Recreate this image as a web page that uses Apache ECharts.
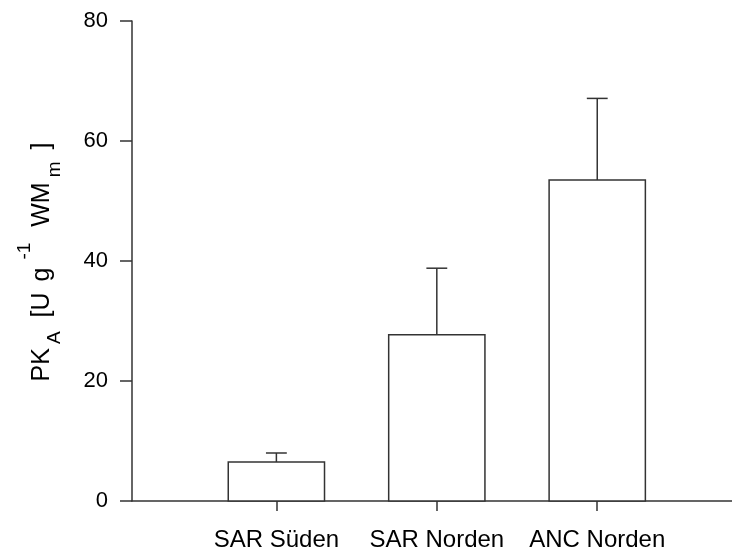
<!DOCTYPE html>
<html>
<head>
<meta charset="utf-8">
<script src="https://cdn.jsdelivr.net/npm/echarts@6/dist/echarts.min.js"></script>
<style>
  html, body { margin: 0; padding: 0; background: #fff; }
  #chart { width: 732px; height: 555px; }
</style>
</head>
<body>
<div id="chart"></div>
<script>
// Site groups, mean activity and upper end of the error bar (mean + SD)
const categories = ['SAR Süden', 'SAR Norden', 'ANC Norden'];
const positions = [1, 2, 3];
const means = [6.5, 27.7, 53.5];
const upperErrors = [8.0, 38.8, 67.1];
const yTicks = [0, 20, 40, 60, 80];

const FONT = 'Liberation Sans, Arial, sans-serif';
const INK = '#333';

const barData = positions.map((p, i) => [p, means[i]]);
const errData = positions.map((p, i) => [p, means[i], upperErrors[i]]);

// rich-text pieces of the y-axis title: main text, subscripts and superscript
const main = (padL, padR) => ({
  fontFamily: FONT, fontSize: 25, color: '#000', lineHeight: 25,
  verticalAlign: 'top', padding: [14, padR || 0, 0, padL || 0]
});
const small = (top, padL, bottom) => ({
  fontFamily: FONT, fontSize: 19, color: '#000', lineHeight: 19,
  verticalAlign: 'top', padding: [top, 0, bottom || 0, padL || 0]
});

const chart = echarts.init(document.getElementById('chart'), null, { renderer: 'canvas' });

chart.setOption({
  animation: false,
  backgroundColor: '#fff',
  grid: { left: 132, right: 0, top: 21, bottom: 54 },
  xAxis: {
    type: 'value',
    min: 0.1,
    max: 3.84,
    splitLine: { show: false },
    axisLine: { show: true, lineStyle: { color: INK, width: 1.5 } },
    axisTick: { show: true, length: 10, customValues: positions, lineStyle: { color: INK, width: 1.5 } },
    axisLabel: {
      customValues: positions,
      formatter: v => categories[Math.round(v) - 1],
      fontFamily: FONT, fontSize: 24, color: '#000', margin: 27
    }
  },
  yAxis: {
    type: 'value',
    min: yTicks[0],
    max: yTicks[yTicks.length - 1],
    interval: 20,
    splitLine: { show: false },
    axisLine: { show: true, lineStyle: { color: INK, width: 1.5 } },
    axisTick: { show: true, length: 12, lineStyle: { color: INK, width: 1.5 } },
    axisLabel: { fontFamily: FONT, fontSize: 22, color: '#000', margin: 24 },
    name: '{b0|PK}{s1|A}{b1| [U}{b2| g}{p1|-1}{b3| WM}{s2|m}{b4|]}',
    nameLocation: 'middle',
    nameRotate: 90,
    nameGap: 66,
    nameTextStyle: {
      fontFamily: FONT,
      color: '#000',
      rich: {
        b0: main(0),
        s1: small(30, 4, 8),
        b1: main(7),
        b2: main(4),
        p1: small(0, 8),
        b3: main(9),
        s2: small(30, 5, 8),
        b4: main(12, 2)
      }
    }
  },
  series: [
    {
      // bars: white boxes with dark outline
      type: 'custom',
      data: barData,
      encode: { x: 0, y: 1 },
      renderItem(params, api) {
        const x = api.value(0), y = api.value(1);
        const tl = api.coord([x - 0.3, y]);
        const br = api.coord([x + 0.3, 0]);
        return {
          type: 'rect',
          shape: { x: tl[0], y: tl[1], width: br[0] - tl[0], height: br[1] - tl[1] },
          style: { fill: '#fff', stroke: INK, lineWidth: 1.5 }
        };
      }
    },
    {
      // upper error bars with a short cap
      type: 'custom',
      data: errData,
      encode: { x: 0, y: [1, 2] },
      renderItem(params, api) {
        const x = api.value(0);
        const lo = api.coord([x, api.value(1)]);
        const hi = api.coord([x, api.value(2)]);
        const capL = api.coord([x - 0.065, api.value(2)]);
        const capR = api.coord([x + 0.065, api.value(2)]);
        const st = { stroke: INK, lineWidth: 1.5 };
        return {
          type: 'group',
          children: [
            { type: 'line', shape: { x1: lo[0], y1: lo[1], x2: hi[0], y2: hi[1] }, style: st },
            { type: 'line', shape: { x1: capL[0], y1: capL[1], x2: capR[0], y2: capR[1] }, style: st }
          ]
        };
      }
    }
  ]
});
</script>
</body>
</html>
